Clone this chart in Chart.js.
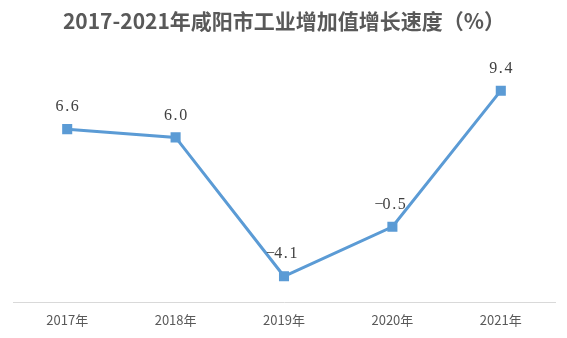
<!DOCTYPE html>
<html><head><meta charset="utf-8">
<script src="https://cdn.jsdelivr.net/npm/chart.js@4/dist/chart.umd.min.js"></script>
<style>html,body{margin:0;padding:0;background:#fff}#wrap{width:567px;height:338px}</style>
</head><body><div id="wrap"><canvas id="c" width="567" height="338"></canvas></div>
<script>
const categories = ['2017年','2018年','2019年','2020年','2021年'];
const growth = [6.6, 6.0, -4.1, -0.5, 9.4];
const labelText = ['6.6','6.0','-4.1','-0.5','9.4'];

const labelPlugin = {
  id: 'labels',
  afterDatasetsDraw(chart) {
    const ctx = chart.ctx;
    const meta = chart.getDatasetMeta(0);
    ctx.save();
    ctx.font = '16px "Liberation Serif", "DejaVu Serif", serif';
    ctx.fillStyle = '#404040';
    ctx.textAlign = 'center';
    ctx.textBaseline = 'middle';
    const cell = 7.6;
    meta.data.forEach((p, i) => {
      const s = labelText[i];
      const cx = p.x - (growth[i] < 0 ? 2 : 0);
      const start = cx - s.length * cell / 2;
      for (let k = 0; k < s.length; k++) {
        const ch = s[k] === '-' ? '−' : s[k];
        ctx.fillText(ch, start + cell * (k + 0.5), p.y - 22);
      }
    });
    ctx.restore();
  }
};

new Chart(document.getElementById('c'), {
  type: 'line',
  data: {
    labels: categories,
    datasets: [{
      data: growth,
      borderColor: '#5b9bd5',
      backgroundColor: '#5b9bd5',
      borderWidth: 3,
      pointStyle: 'rect',
      pointRadius: 5,
      pointHoverRadius: 5,
      tension: 0,
      fill: false
    }]
  },
  options: {
    responsive: false,
    animation: false,
    events: [],
    layout: { padding: { left: 13, right: 12, top: 0, bottom: 0 } },
    plugins: {
      legend: { display: false },
      tooltip: { enabled: false },
      title: {
        display: true,
        text: '2017-2021年咸阳市工业增加值增长速度（%）',
        color: '#595959',
        font: { family: '"Noto Sans CJK SC", sans-serif', size: 21, weight: 'bold' },
        padding: { top: 8, bottom: 18 }
      }
    },
    scales: {
      x: {
        offset: true,
        grid: { display: false, drawTicks: false },
        border: { display: true, color: '#d9d9d9', width: 1 },
        ticks: {
          color: '#595959',
          font: { family: '"Noto Sans CJK SC", sans-serif', size: 13 },
          padding: 10
        }
      },
      y: {
        display: false,
        min: -6,
        max: 12.27
      }
    }
  },
  plugins: [labelPlugin]
});
</script></body></html>
